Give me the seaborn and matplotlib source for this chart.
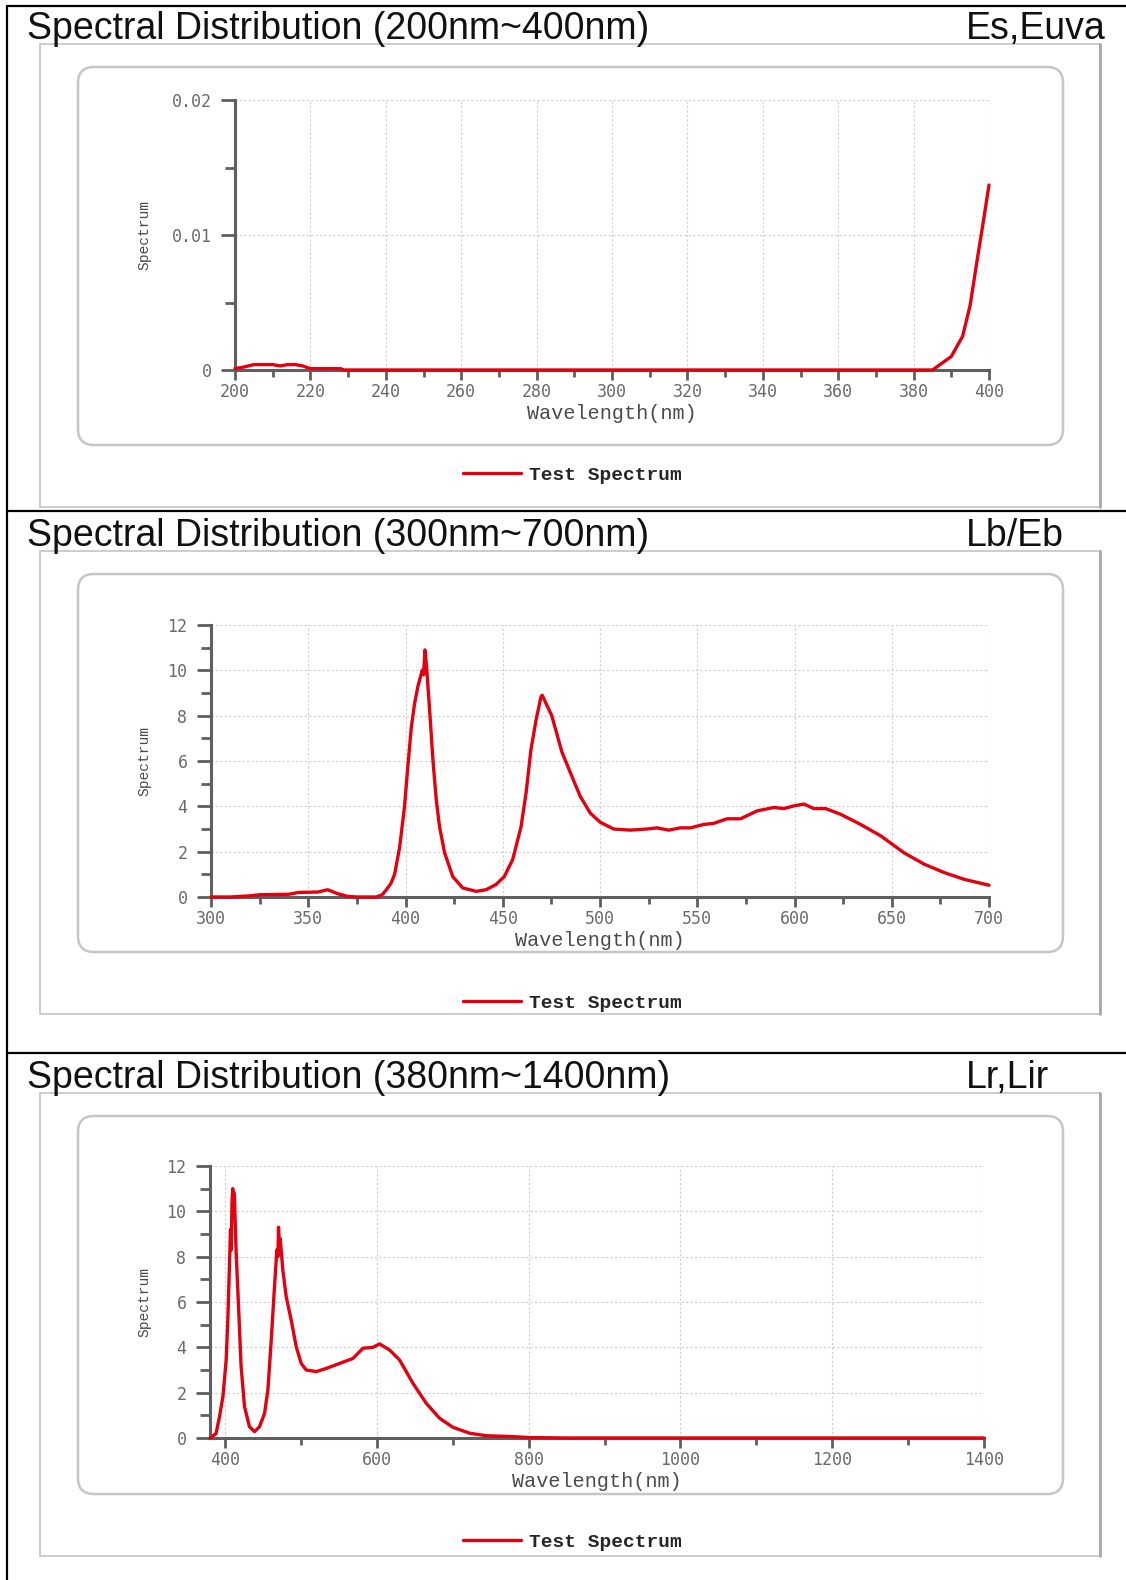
"""
Spectral distribution sheet: three stacked spectrum charts (UV, visible, wide range)
"""

import numpy as np
import pandas as pd
import matplotlib
matplotlib.use("Agg")
import matplotlib.pyplot as plt
from matplotlib.patches import FancyBboxPatch, Rectangle
from matplotlib.ticker import MultipleLocator, FixedLocator
import seaborn as sns

# ---- data ----
uv_nm = [200, 202, 205, 208, 210, 212, 214, 216, 218, 220, 222, 226, 228, 229,
         385, 390, 393, 395, 397, 398.5, 400]
uv_val = [0.0001, 0.0002, 0.0004, 0.0004, 0.0004, 0.0003, 0.0004, 0.0004, 0.0003,
          0.0001, 0.0001, 0.0001, 0.0001, 0.0, 0.0, 0.001, 0.0025, 0.0048, 0.0084,
          0.011, 0.0137]

vis_nm = [300, 310, 320, 325, 340, 345, 355, 360, 365, 370, 375, 385, 388, 390,
          392.5, 394.4, 397, 399.5, 401.2, 403, 404.7, 406.4, 408.6, 409.3, 410,
          410.8, 412.4, 414.1, 415.8, 417.5, 420.1, 424.3, 429.4, 436.3, 441.4,
          446.5, 450.8, 455.1, 459.4, 462, 464.5, 467.1, 469.7, 470.3, 475.2,
          480.4, 484.7, 489.8, 495, 500.1, 507, 515.6, 524.2, 529.3, 535.3, 541.3,
          546.5, 553.3, 558.5, 565.3, 572.2, 580.8, 589.4, 594.5, 599.7, 604.8,
          610, 616, 623.7, 634, 644.3, 656.3, 666.6, 676.9, 687.2, 700]
vis_val = [0.0, 0.0, 0.05, 0.1, 0.12, 0.2, 0.22, 0.32, 0.15, 0.03, 0.0, 0.0, 0.1, 0.3,
           0.6, 1.0, 2.2, 4.0, 5.75, 7.5, 8.55, 9.3, 10.0, 9.8, 10.9,
           10.2, 8.25, 6.05, 4.3, 3.1, 1.95, 0.9, 0.4, 0.25, 0.32,
           0.55, 0.9, 1.65, 3.1, 4.6, 6.5, 7.8, 8.85, 8.9, 8.0,
           6.4, 5.5, 4.45, 3.7, 3.3, 3.0, 2.95, 3.0, 3.05, 2.95, 3.05,
           3.05, 3.2, 3.25, 3.45, 3.45, 3.8, 3.95, 3.9, 4.02, 4.1,
           3.9, 3.9, 3.65, 3.2, 2.7, 1.95, 1.45, 1.08, 0.78, 0.52]

wide_nm = [380, 381.5, 388, 392.5, 397, 401.3, 403.5, 405.7, 407, 408, 409, 410,
           411, 412, 414.5, 418, 421, 425.5, 432, 438.7, 445.3, 451.9, 456.3,
           460.7, 465, 468.1, 469.5, 470.3, 471.5, 472.5, 476, 480.4, 487, 493.6,
           500.2, 506.8, 520, 533.2, 550.8, 568.4, 581.5, 594.7, 603.5, 616.7,
           629.9, 647.5, 665, 682.6, 700.2, 722.2, 744.2, 779.3, 801, 850, 1400]
wide_val = [0.0, 0.03, 0.2, 0.94, 1.82, 3.44, 5.2, 7.7, 9.2, 8.3, 10.4, 11.0,
            10.0, 10.8, 8.15, 5.5, 3.15, 1.38, 0.5, 0.28, 0.5, 1.09, 2.12,
            4.32, 6.68, 8.3, 8.0, 9.3, 8.4, 8.8, 7.41, 6.24, 5.2, 4.03,
            3.29, 3.0, 2.93, 3.07, 3.29, 3.51, 3.96, 4.0, 4.15, 3.88,
            3.44, 2.41, 1.53, 0.87, 0.47, 0.21, 0.1, 0.06, 0.02, 0.0, 0.0]

titles = ["Spectral Distribution (200nm~400nm)",
          "Spectral Distribution (300nm~700nm)",
          "Spectral Distribution (380nm~1400nm)"]
tags = ["Es,Euva", "Lb/Eb", "Lr,Lir"]

# ---- layout (pixels) ----
W, H = 1126, 1580
RED = "#e3000f"
AXIS_GRAY = "#5f5f5f"

sns.set_style("white")
plt.rcParams["font.family"] = ["Liberation Sans", "DejaVu Sans"]


def fx(px):
    return px / W


def fy(py):
    return 1 - py / H


fig = plt.figure(figsize=(W / 100, H / 100), dpi=100)

# background canvas in pixel units for frames / titles
bg = fig.add_axes([0, 0, 1, 1], zorder=0)
bg.set_xlim(0, W)
bg.set_ylim(H, 0)
bg.axis("off")

# black outer lines
bg.plot([7, W], [6, 6], color="black", lw=1.6)
bg.plot([7, 7], [6, H], color="black", lw=1.6)
for yd in [511, 1053]:
    bg.plot([7, W], [yd, yd], color="black", lw=1.6)

panel_tops = [0, 507, 1049]
for i, top in enumerate(panel_tops):
    bg.text(27, top + 29, titles[i], fontsize=27, ha="left", va="center",
            color="#111111")
    bg.text(966, top + 29, tags[i], fontsize=27, ha="left", va="center",
            color="#111111")
    # light picture frame, slightly darker right edge like the screenshot
    bg.add_patch(Rectangle((40, top + 44), 1060, 463, fill=False,
                           ec="#c8c8c8", lw=1.3))
    bg.plot([1100, 1100], [top + 44, top + 507], color="#a8a8a8", lw=2)
    # rounded plot box
    bg.add_patch(FancyBboxPatch((78, top + 67), 985, 378,
                                boxstyle="round,pad=0,rounding_size=16",
                                fill=False, ec="#c6c6c6", lw=1.8))

# chart axes: (left, right, top, bottom) in px
specs = [
    dict(nm=uv_nm, val=uv_val, box=(235, 989, 100, 370), xlim=(200, 400),
         xmaj=20, xmin=10, ylim=(0, 0.02), ymaj=[0, 0.01, 0.02],
         ylab=["0", "0.01", "0.02"], ymin=0.005, leg_y=475),
    dict(nm=vis_nm, val=vis_val, box=(211, 989, 625, 897), xlim=(300, 700),
         xmaj=50, xmin=25, ylim=(0, 12), ymaj=list(range(0, 13, 2)),
         ylab=[str(v) for v in range(0, 13, 2)], ymin=1, leg_y=1003),
    dict(nm=wide_nm, val=wide_val, box=(210, 984, 1166, 1438), xlim=(380, 1400),
         xmaj=None, xmin=None, ylim=(0, 12), ymaj=list(range(0, 13, 2)),
         ylab=[str(v) for v in range(0, 13, 2)], ymin=1, leg_y=1542),
]

for s in specs:
    l, r, t, b = s["box"]
    ax = fig.add_axes([fx(l), fy(b), (r - l) / W, (b - t) / H], zorder=2)
    ax.patch.set_alpha(0)

    df = pd.DataFrame({"Wavelength": s["nm"], "Spectrum": s["val"]})
    sns.lineplot(data=df, x="Wavelength", y="Spectrum", ax=ax, color=RED,
                 linewidth=2.4, label="Test Spectrum", clip_on=False, zorder=4)

    ax.set_xlim(*s["xlim"])
    ax.set_ylim(*s["ylim"])

    if s["xmaj"] is not None:
        ax.xaxis.set_major_locator(MultipleLocator(s["xmaj"]))
        ax.xaxis.set_minor_locator(MultipleLocator(s["xmin"]))
    else:
        ax.xaxis.set_major_locator(FixedLocator([400, 600, 800, 1000, 1200, 1400]))
        ax.xaxis.set_minor_locator(FixedLocator([500, 700, 900, 1100, 1300]))
    ax.set_yticks(s["ymaj"])
    ax.set_yticklabels(s["ylab"])
    ax.yaxis.set_minor_locator(MultipleLocator(s["ymin"]))

    for side in ["top", "right"]:
        ax.spines[side].set_visible(False)
    for side in ["left", "bottom"]:
        ax.spines[side].set_color(AXIS_GRAY)
        ax.spines[side].set_linewidth(2.2)

    ax.grid(True, which="major", color="#cdcdcd", linestyle=(0, (2, 2)), lw=0.8)
    ax.set_axisbelow(True)

    ax.tick_params(which="both", bottom=True, left=True, direction="out",
                   color=AXIS_GRAY, width=2.0)
    ax.tick_params(axis="x", which="major", length=7, pad=2.5, labelsize=12,
                   labelcolor="#6a6a6a")
    ax.tick_params(axis="y", which="major", length=10, pad=7, labelsize=12,
                   labelcolor="#6a6a6a")
    ax.tick_params(which="minor", length=5)
    ax.tick_params(axis="y", which="minor", length=7)
    for lab in ax.get_xticklabels() + ax.get_yticklabels():
        lab.set_fontfamily("DejaVu Sans Mono")

    ax.set_xlabel("Wavelength(nm)", fontsize=14.5, color="#4a4a4a",
                  fontfamily="Liberation Mono")
    ax.xaxis.set_label_coords(fx((l + r) / 2), fy(b + 34), transform=fig.transFigure)
    ax.set_ylabel("Spectrum", fontsize=10.5, color="#4a4a4a",
                  fontfamily="Liberation Mono")
    ax.yaxis.set_label_coords(fx(151), fy((t + b) / 2), transform=fig.transFigure)

    leg = ax.legend(loc="center left", bbox_to_anchor=(fx(453), fy(s["leg_y"])),
                    bbox_transform=fig.transFigure, frameon=False,
                    borderpad=0, handlelength=3.0, handletextpad=0.4,
                    prop={"family": "Liberation Mono", "weight": "bold", "size": 14})
    for line in leg.get_lines():
        line.set_linewidth(2.4)

fig.savefig("out.png", dpi=100)
